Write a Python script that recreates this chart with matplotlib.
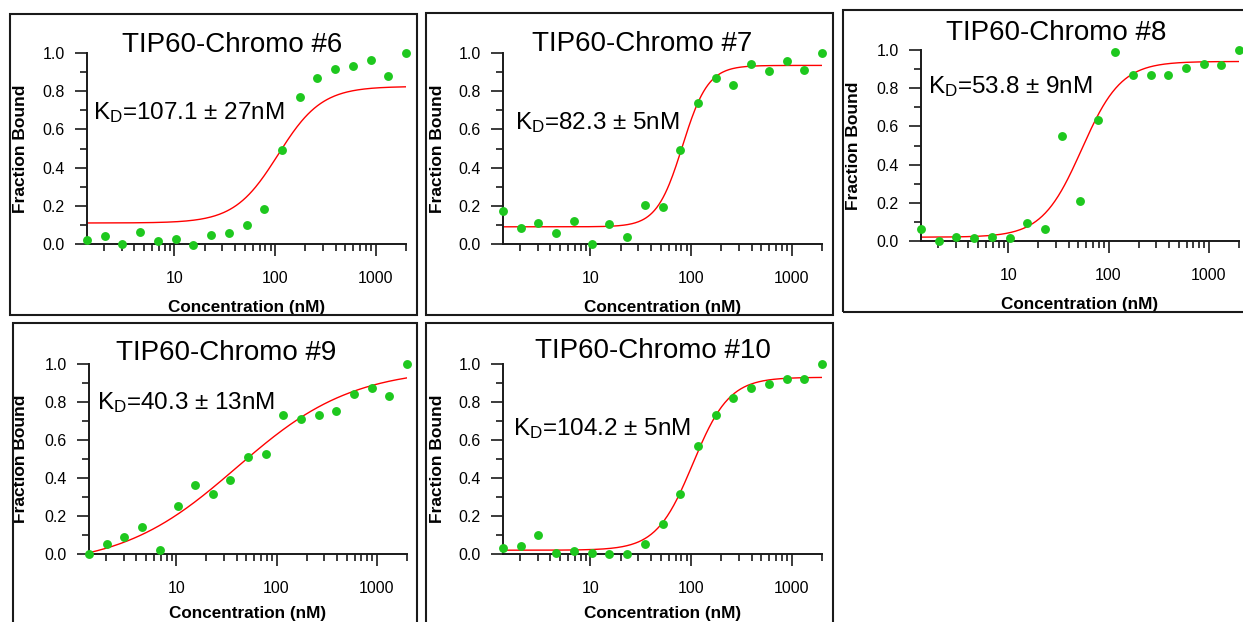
import numpy as np
import matplotlib
matplotlib.use("Agg")
import matplotlib.pyplot as plt
from matplotlib.patches import Rectangle
from matplotlib.ticker import LogLocator, FixedLocator, NullFormatter, FixedFormatter

plt.rcParams["font.family"] = ["Liberation Sans", "DejaVu Sans"]
plt.rcParams["mathtext.fontset"] = "custom"
plt.rcParams["mathtext.rm"] = "Liberation Sans"
plt.rcParams["mathtext.it"] = "Liberation Sans"

# 1.5-fold dilution series (nM)
conc = [1.35, 2.03, 3.04, 4.57, 6.85, 10.3, 15.4, 23.1, 34.7, 52.0,
        78.0, 117, 176, 263, 395, 593, 889, 1333, 2000]

titles = ["TIP60-Chromo #6", "TIP60-Chromo #7", "TIP60-Chromo #8",
          "TIP60-Chromo #9", "TIP60-Chromo #10"]
kd_labels = ["107.1 \u00b1 27nM", "82.3 \u00b1 5nM", "53.8 \u00b1 9nM",
             "40.3 \u00b1 13nM", "104.2 \u00b1 5nM"]

bound6 = [0.021, 0.044, 0.0, 0.061, 0.017, 0.024, -0.007, 0.049, 0.056, 0.10,
          0.184, 0.49, 0.771, 0.869, 0.916, 0.93, 0.962, 0.879, 0.998]
bound7 = [0.171, 0.082, 0.112, 0.059, 0.119, 0.0, 0.106, 0.037, 0.202, 0.194,
          0.49, 0.738, 0.869, 0.834, 0.941, 0.906, 0.96, 0.909, 1.0]
bound8 = [0.063, 0.0, 0.019, 0.016, 0.023, 0.014, 0.096, 0.061, 0.552, 0.208,
          0.633, 0.991, 0.87, 0.87, 0.869, 0.906, 0.927, 0.92, 1.0]
bound9 = [0.0, 0.051, 0.087, 0.143, 0.021, 0.252, 0.362, 0.318, 0.392, 0.512,
          0.526, 0.733, 0.71, 0.734, 0.755, 0.844, 0.874, 0.834, 1.0]
bound10 = [0.03, 0.042, 0.098, 0.007, 0.014, 0.005, 0.0, 0.002, 0.051, 0.158,
           0.314, 0.568, 0.73, 0.819, 0.875, 0.893, 0.921, 0.921, 1.0]
bound = [bound6, bound7, bound8, bound9, bound10]

# Hill fit parameters
fit_bottom = [0.11, 0.09, 0.02, -0.07, 0.02]
fit_top = [0.825, 0.935, 0.94, 0.98, 0.93]
fit_mid = [107, 82, 54, 40, 104]
fit_hill = [2.0, 3.4, 2.2, 0.75, 2.4]

W, H = 1243, 622
fig = plt.figure(figsize=(W / 100, H / 100), dpi=100)

# layout in pixels
axes_px = [(87, 53, 406, 244), (503, 53, 822, 244), (921, 50, 1239, 241),
           (89, 364, 407, 554), (503, 364, 822, 554)]
frame_px = [(10, 14, 417, 315), (426, 13, 833, 315), (843, 10, 1250, 312),
            (13, 323, 417, 640), (426, 323, 833, 640)]
title_px = [(232, 52), (642, 51), (1056, 40), (226, 360), (653, 358)]
kd_px = [(93, 119), (515, 129), (928, 93), (97, 409), (513, 435)]
xlab_y = [312, 312, 309, 618, 618]
ylab_x = [21, 437, 853, 21, 437]

green = "#1ec81e"
edge = "#1a1a1a"

for i in range(5):
    l, t, r, b = axes_px[i]
    ax = fig.add_axes([l / W, 1 - b / H, (r - l) / W, (b - t) / H])
    ax.set_xscale("log")
    ax.set_xlim(1.35, 2000)
    ax.set_ylim(0, 1)

    xs = np.logspace(np.log10(1.35), np.log10(2000), 300)
    ys = fit_bottom[i] + (fit_top[i] - fit_bottom[i]) * xs ** fit_hill[i] / (fit_mid[i] ** fit_hill[i] + xs ** fit_hill[i])
    ax.plot(xs, ys, color="red", lw=1.0, zorder=2)
    ax.plot(conc, bound[i], "o", color=green, ms=6.4, mec="none", clip_on=False, zorder=3)

    for s in ["top", "right"]:
        ax.spines[s].set_visible(False)
    for s in ["left", "bottom"]:
        ax.spines[s].set_linewidth(1.4)
        ax.spines[s].set_color(edge)

    ax.xaxis.set_major_locator(FixedLocator([10, 100, 1000]))
    ax.xaxis.set_major_formatter(FixedFormatter(["10", "100", "1000"]))
    ax.xaxis.set_minor_locator(LogLocator(base=10, subs=np.arange(2, 10)))
    ax.xaxis.set_minor_formatter(NullFormatter())
    ax.set_yticks([0, 0.2, 0.4, 0.6, 0.8, 1.0])
    ax.set_yticklabels(["0.0", "0.2", "0.4", "0.6", "0.8", "1.0"])
    ax.set_yticks(np.arange(0.1, 1.0, 0.2), minor=True)
    ax.tick_params(which="major", length=8.6, width=1.2, color=edge, labelsize=11.5)
    ax.tick_params(which="minor", length=4.7, width=1.2, color=edge)
    ax.tick_params(axis="x", which="major", pad=10.5)
    ax.tick_params(axis="y", which="major", pad=7.5)

    ax.set_xlabel("Concentration (nM)", fontsize=12.3, fontweight="bold", va="baseline")
    ax.xaxis.set_label_coords(0.5, -(xlab_y[i] - b) / (b - t))
    ax.set_ylabel("Fraction Bound", fontsize=12.5, fontweight="bold", va="center")
    ax.yaxis.set_label_coords((ylab_x[i] - l) / (r - l), 0.5)
    ax.patch.set_alpha(0)

    fl, ft, fr, fb = frame_px[i]
    fig.patches.append(Rectangle((fl / W, 1 - fb / H), (fr - fl) / W, (fb - ft) / H,
                                 transform=fig.transFigure, fill=False, lw=1.5,
                                 edgecolor=edge, zorder=0))

    tx, ty = title_px[i]
    fig.text(tx / W, 1 - ty / H, titles[i], fontsize=20, ha="center", va="baseline")
    kx, ky = kd_px[i]
    fig.text(kx / W, 1 - ky / H, r"K$_\mathrm{D}$=" + kd_labels[i], fontsize=17.5,
             ha="left", va="baseline")

fig.savefig("out.png", dpi=100)
